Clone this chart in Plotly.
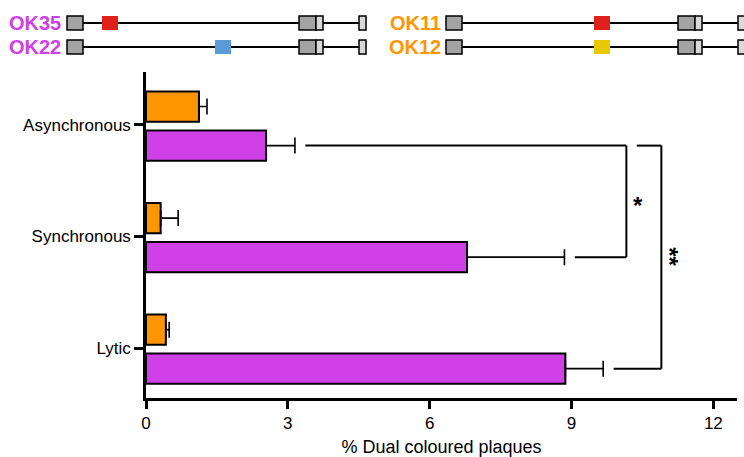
import plotly.graph_objects as go

# ---------------- data ----------------
categories = ["Asynchronous", "Synchronous", "Lytic"]
orange_mean = [1.12, 0.31, 0.42]
orange_err = [0.17, 0.37, 0.07]
purple_mean = [2.54, 6.79, 8.87]
purple_err = [0.61, 2.06, 0.80]
x_ticks = [0, 3, 6, 9, 12]
x_title = "% Dual coloured plaques"
# significance comparisons: (category a, category b, label)
comparisons = [("Asynchronous", "Synchronous", "*"), ("Asynchronous", "Lytic", "**")]
strain_labels_left = ["OK35", "OK22"]
strain_labels_right = ["OK11", "OK12"]

ORANGE = "#FF9500"
PURPLE = "#CF40E6"
FONT = "Liberation Sans, Arial, sans-serif"

W, H = 744, 457
L, R, T, B = 146, 7, 72, 59
PW, PH = W - L - R, H - T - B

cat_order = ["Lytic", "Synchronous", "Asynchronous"]
pos = {c: i for i, c in enumerate(cat_order)}
BW = 0.27
OFF_OR = 0.03
OFF_PU = -0.32

fig = go.Figure()
fig.add_trace(go.Bar(
    y=categories, x=purple_mean, orientation="h", width=BW, offset=OFF_PU,
    marker=dict(color=PURPLE, line=dict(color="black", width=2)),
    error_x=dict(type="data", array=purple_err, arrayminus=[0] * 3, symmetric=False,
                 color="black", thickness=1.6, width=8),
    showlegend=False))
fig.add_trace(go.Bar(
    y=categories, x=orange_mean, orientation="h", width=BW, offset=OFF_OR,
    marker=dict(color=ORANGE, line=dict(color="black", width=2)),
    error_x=dict(type="data", array=orange_err, arrayminus=[0] * 3, symmetric=False,
                 color="black", thickness=1.6, width=8),
    showlegend=False))

shapes = []
annotations = []

# significance brackets (data coordinates)
pu_center = OFF_PU + BW / 2
gap = 0.22
tip = {c: purple_mean[i] + purple_err[i] for i, c in enumerate(categories)}
bracket_x = [10.16, 10.9]
for k, (a, b, lab) in enumerate(comparisons):
    xv = bracket_x[k]
    ya = pos[a] + pu_center
    yb = pos[b] + pu_center
    if k == 0:
        xa0 = tip[a] + gap
    else:
        xa0 = bracket_x[0] + gap
    xb0 = tip[b] + gap
    for (x0, y0, x1, y1) in [(xa0, ya, xv, ya), (xv, ya, xv, yb), (xb0, yb, xv, yb)]:
        shapes.append(dict(type="line", xref="x", yref="y", x0=x0, y0=y0, x1=x1, y1=y1,
                           line=dict(color="black", width=2)))
    ym = (ya + yb) / 2
    if k == 0:
        annotations.append(dict(x=xv + 0.25, y=ym - 0.04, xref="x", yref="y", text="<b>%s</b>" % lab,
                                showarrow=False, font=dict(family=FONT, size=24, color="black"),
                                xanchor="center", yanchor="middle"))
    else:
        annotations.append(dict(x=xv + 0.18, y=ym, xref="x", yref="y", text="<b>%s</b>" % lab,
                                showarrow=False, textangle=90,
                                font=dict(family=FONT, size=24, color="black"),
                                xanchor="center", yanchor="middle"))


# gene diagrams (decorative, pixel layout converted to paper)
def px(x):
    return (x - L) / PW


def py(y):
    return (H - B - y) / PH


def gene(x_start, y_c, mut_off, mut_color):
    h = 7
    shapes.append(dict(type="line", xref="paper", yref="paper", x0=px(x_start + 16), x1=px(x_start + 292),
                       y0=py(y_c), y1=py(y_c), line=dict(color="black", width=2)))
    for (a, b, col) in [(0, 16, "#A3A3A3"), (232, 249, "#A3A3A3"), (249, 256, "#D9D9D9"), (292, 299, "#D9D9D9")]:
        shapes.append(dict(type="rect", xref="paper", yref="paper", x0=px(x_start + a), x1=px(x_start + b),
                           y0=py(y_c + h), y1=py(y_c - h), fillcolor=col,
                           line=dict(color="black", width=1.5)))
    shapes.append(dict(type="rect", xref="paper", yref="paper", x0=px(x_start + mut_off),
                       x1=px(x_start + mut_off + 16), y0=py(y_c + h), y1=py(y_c - h),
                       fillcolor=mut_color, line=dict(width=0)))


gene(67, 23, 35, "#E0201B")
gene(67, 47, 148, "#5B9BD5")
gene(446, 23, 148, "#E0201B")
gene(446, 47, 148, "#E8C800")

for lab, yc in zip(strain_labels_left, [23, 47]):
    annotations.append(dict(x=px(63), y=py(yc), xref="paper", yref="paper", text="<b>%s</b>" % lab,
                            showarrow=False, xanchor="right", yanchor="middle",
                            font=dict(family=FONT, size=20, color=PURPLE)))
for lab, yc in zip(strain_labels_right, [23, 47]):
    annotations.append(dict(x=px(443), y=py(yc), xref="paper", yref="paper", text="<b>%s</b>" % lab,
                            showarrow=False, xanchor="right", yanchor="middle",
                            font=dict(family=FONT, size=20, color=ORANGE)))

fig.update_layout(
    width=W, height=H,
    margin=dict(l=L, r=R, t=T, b=B, autoexpand=False),
    plot_bgcolor="white", paper_bgcolor="white",
    font=dict(family=FONT, color="black"),
    shapes=shapes, annotations=annotations,
    xaxis=dict(range=[0, 12.5], tickvals=x_ticks, showgrid=False, zeroline=False,
               showline=True, linecolor="black", linewidth=2.5, ticks="outside",
               ticklen=8, tickwidth=2.5, tickcolor="black", automargin=False,
               tickfont=dict(family=FONT, size=17, color="black"),
               title=dict(text=x_title, font=dict(family=FONT, size=18, color="black"), standoff=10)),
    yaxis=dict(type="category", categoryorder="array", categoryarray=cat_order,
               range=[-0.448, 2.475], showgrid=False, zeroline=False, automargin=False,
               showline=True, linecolor="black", linewidth=2.5, ticks="outside",
               ticklen=9, tickwidth=2.5, tickcolor="black",
               tickfont=dict(family=FONT, size=17, color="black")),
)

fig.write_html("out.html", config={"displayModeBar": False},
               post_script="document.body.style.margin='0';document.body.style.overflow='hidden';")
